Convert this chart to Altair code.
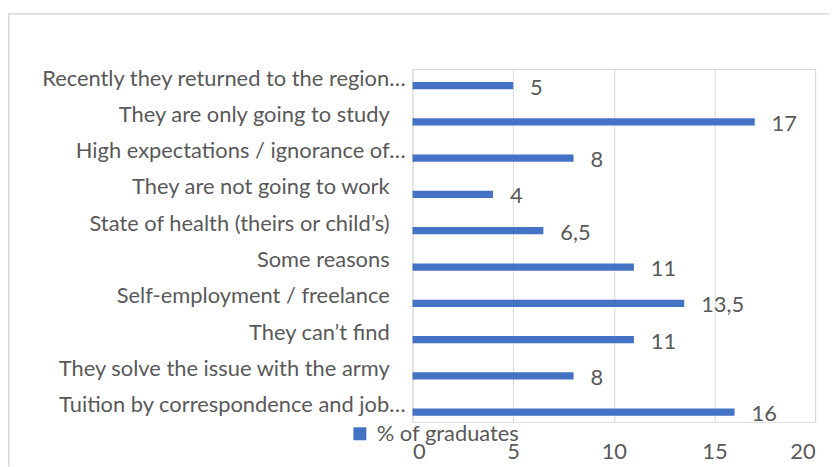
import altair as alt
import pandas as pd

categories = [
    "Recently they returned to the region…",
    "They are only going to study",
    "High expectations / ignorance of…",
    "They are not going to work",
    "State of health (theirs or child’s)",
    "Some reasons",
    "Self-employment / freelance",
    "They can’t find",
    "They solve the issue with the army",
    "Tuition by correspondence and job…",
]
values = [5, 17, 8, 4, 6.5, 11, 13.5, 11, 8, 16]
series_name = "% of graduates"
x_ticks = [0, 5, 10, 15, 20]

df = pd.DataFrame({"category": categories, "value": values, "series": series_name})
df["truncated"] = df["category"].str.endswith("…")

FONT = "Lato"
GRAY = "#595959"
BLUE = "#4472C4"
FS = 22

yscale = alt.Scale(domain=categories, paddingInner=0.8, paddingOuter=0.263, align=0.68)

base = alt.Chart(df)

bars = base.mark_bar(color=BLUE).encode(
    x=alt.X("value:Q", scale=alt.Scale(domain=[0, 20]),
            axis=alt.Axis(values=x_ticks, title=None, grid=True, gridColor="#d9d9d9",
                          domain=False, ticks=False, labelFont=FONT, labelFontSize=FS,
                          labelColor=GRAY, labelPadding=20)),
    y=alt.Y("category:N", scale=yscale, axis=None),
    color=alt.Color("series:N", scale=alt.Scale(range=[BLUE]),
                    legend=alt.Legend(title=None, orient="none", legendX=-64, legendY=356,
                                      symbolType="square", symbolSize=169,
                                      symbolStrokeWidth=0, labelFont=FONT,
                                      labelFontSize=FS, labelColor=GRAY, labelOffset=6)),
)

vals = base.transform_calculate(
    lab="replace(toString(datum.value), '.', ',')"
).mark_text(align="left", baseline="middle", dx=17, dy=2, font=FONT, fontSize=FS,
            color=GRAY).encode(
    x="value:Q",
    y=alt.Y("category:N", scale=yscale),
    text="lab:N",
)

lab_trunc = base.transform_filter("datum.truncated").mark_text(
    align="right", baseline="middle", dy=-7, font=FONT, fontSize=FS, color=GRAY
).encode(x=alt.value(-7), y=alt.Y("category:N", scale=yscale), text="category:N")

lab_full = base.transform_filter("!datum.truncated").mark_text(
    align="right", baseline="middle", dy=-7, font=FONT, fontSize=FS, color=GRAY
).encode(x=alt.value(-23), y=alt.Y("category:N", scale=yscale), text="category:N")

frame = pd.DataFrame({"a": [0]})
border_top = alt.Chart(frame).mark_rule(color="#d9d9d9", strokeWidth=1.5).encode(
    x=alt.value(-406.5), x2=alt.value(420), y=alt.value(-55.5))
border_left = alt.Chart(frame).mark_rule(color="#d9d9d9", strokeWidth=1.5).encode(
    x=alt.value(-406.2), y=alt.value(-56), y2=alt.value(400))

chart = alt.layer(border_top, border_left, bars, vals, lab_trunc, lab_full).properties(
    width=405, height=355,
    autosize=alt.AutoSizeParams(type="none"),
    padding={"left": 407, "top": 60, "right": 14, "bottom": 44},
).configure_view(stroke=None).configure(background="white")

chart.save("out.html", embed_options={"renderer": "svg", "actions": False})
